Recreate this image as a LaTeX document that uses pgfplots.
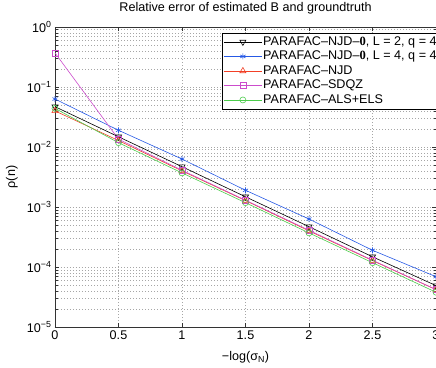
\documentclass[border=0pt]{standalone}
\usepackage{fontspec}
\setmainfont{Liberation Sans}
\newfontfamily\serifbold{Liberation Serif}
\usepackage{pgfplots}
\pgfplotsset{compat=1.18}
\definecolor{mblue}{rgb}{0.15,0.35,0.90}
\definecolor{mred}{rgb}{0.95,0.25,0.15}
\definecolor{mmag}{rgb}{0.80,0.30,0.80}
\definecolor{mgreen}{rgb}{0.30,0.80,0.30}
\begin{document}
\begin{tikzpicture}[font=\fontsize{12.6}{15}\selectfont]
\path[use as bounding box] (-55pt,-40pt) rectangle (381pt,327pt);
\clip (-55pt,-40pt) rectangle (381.2pt,327pt);
\begin{axis}[
  scale only axis, width=381pt, height=300pt,
  at={(0,0)}, anchor=south west,
  xmin=0, xmax=3, ymin=1e-5, ymax=1,
  ymode=log,
  xtick={0,0.5,1,1.5,2,2.5,3},
  xticklabels={0,0.5,1,1.5,2,2.5,3},
  ytick={1e-5,1e-4,1e-3,1e-2,1e-1,1},
  yticklabels={10\textsuperscript{−5},10\textsuperscript{−4},10\textsuperscript{−3},10\textsuperscript{−2},10\textsuperscript{−1},10\textsuperscript{0}},
  minor x tick num=0,
  tick align=inside,
  xmajorgrids=true, ymajorgrids=true, yminorgrids=true,
  major grid style={gray!70, line width=0.5pt, dash pattern=on 0.7pt off 2.3pt},
  minor grid style={gray!70, line width=0.5pt, dash pattern=on 0.7pt off 2.3pt},
  axis line style={black!80, line width=0.5pt},
  every tick/.style={black!80, line width=0.5pt},
  major tick length=4pt, minor tick length=2.5pt,
  title={Relative error of estimated B and groundtruth},
  title style={at={(axis description cs:0.5,1.033)}, anchor=base},
  xlabel={−log(σ\textsubscript{N})},
  ylabel={ρ(n)},
  every axis x label/.style={at={(axis description cs:0.5,-0.1)}, anchor=center},
  every axis y label/.style={at={(axis description cs:-0.113,0.5)}, rotate=90, anchor=center},
  legend style={at={(axis description cs:0.438,0.98)}, anchor=north west,
    draw=black, fill=white, inner sep=1.5pt, row sep=0pt,
    nodes={inner sep=1pt, text height=9.5pt, text depth=3pt}},
  legend cell align=left,
  legend image code/.code={\draw[mark repeat=2,mark phase=2] plot coordinates {(0pt,0pt)(19pt,0pt)(38pt,0pt)};},
  every axis plot/.append style={line width=0.6pt, mark size=3.5pt},
]
\addplot[black, mark=triangle, mark options={rotate=180, solid}] coordinates {
(0,0.047) (0.5,0.0148) (1,0.0047) (1.5,0.00148) (2,0.00047) (2.5,0.000148) (3,0.000049)};
\addlegendentry{PARAFAC–NJD–{\serifbold\bfseries 0}, L = 2, q = 4}
\addplot[mblue, mark=asterisk, mark size=3pt] coordinates {
(0,0.063) (0.5,0.019) (1,0.0063) (1.5,0.0019) (2,0.00063) (2.5,0.00019) (3,0.000069)};
\addlegendentry{PARAFAC–NJD–{\serifbold\bfseries 0}, L = 4, q = 4}
\addplot[mred, mark=triangle] coordinates {
(0,0.040) (0.5,0.0128) (1,0.0040) (1.5,0.00128) (2,0.00040) (2.5,0.000128) (3,0.000042)};
\addlegendentry{PARAFAC–NJD}
\addplot[mmag, mark=square, mark size=3pt] coordinates {
(0,0.37) (0.5,0.0135) (1,0.0041) (1.5,0.0013) (2,0.00041) (2.5,0.00013) (3,0.000042)};
\addlegendentry{PARAFAC–SDQZ}
\addplot[mgreen, mark=o, mark size=3pt] coordinates {
(0,0.044) (0.5,0.0118) (1,0.0037) (1.5,0.00118) (2,0.00037) (2.5,0.000118) (3,0.000038)};
\addlegendentry{PARAFAC–ALS+ELS}
\end{axis}
\end{tikzpicture}
\end{document}
